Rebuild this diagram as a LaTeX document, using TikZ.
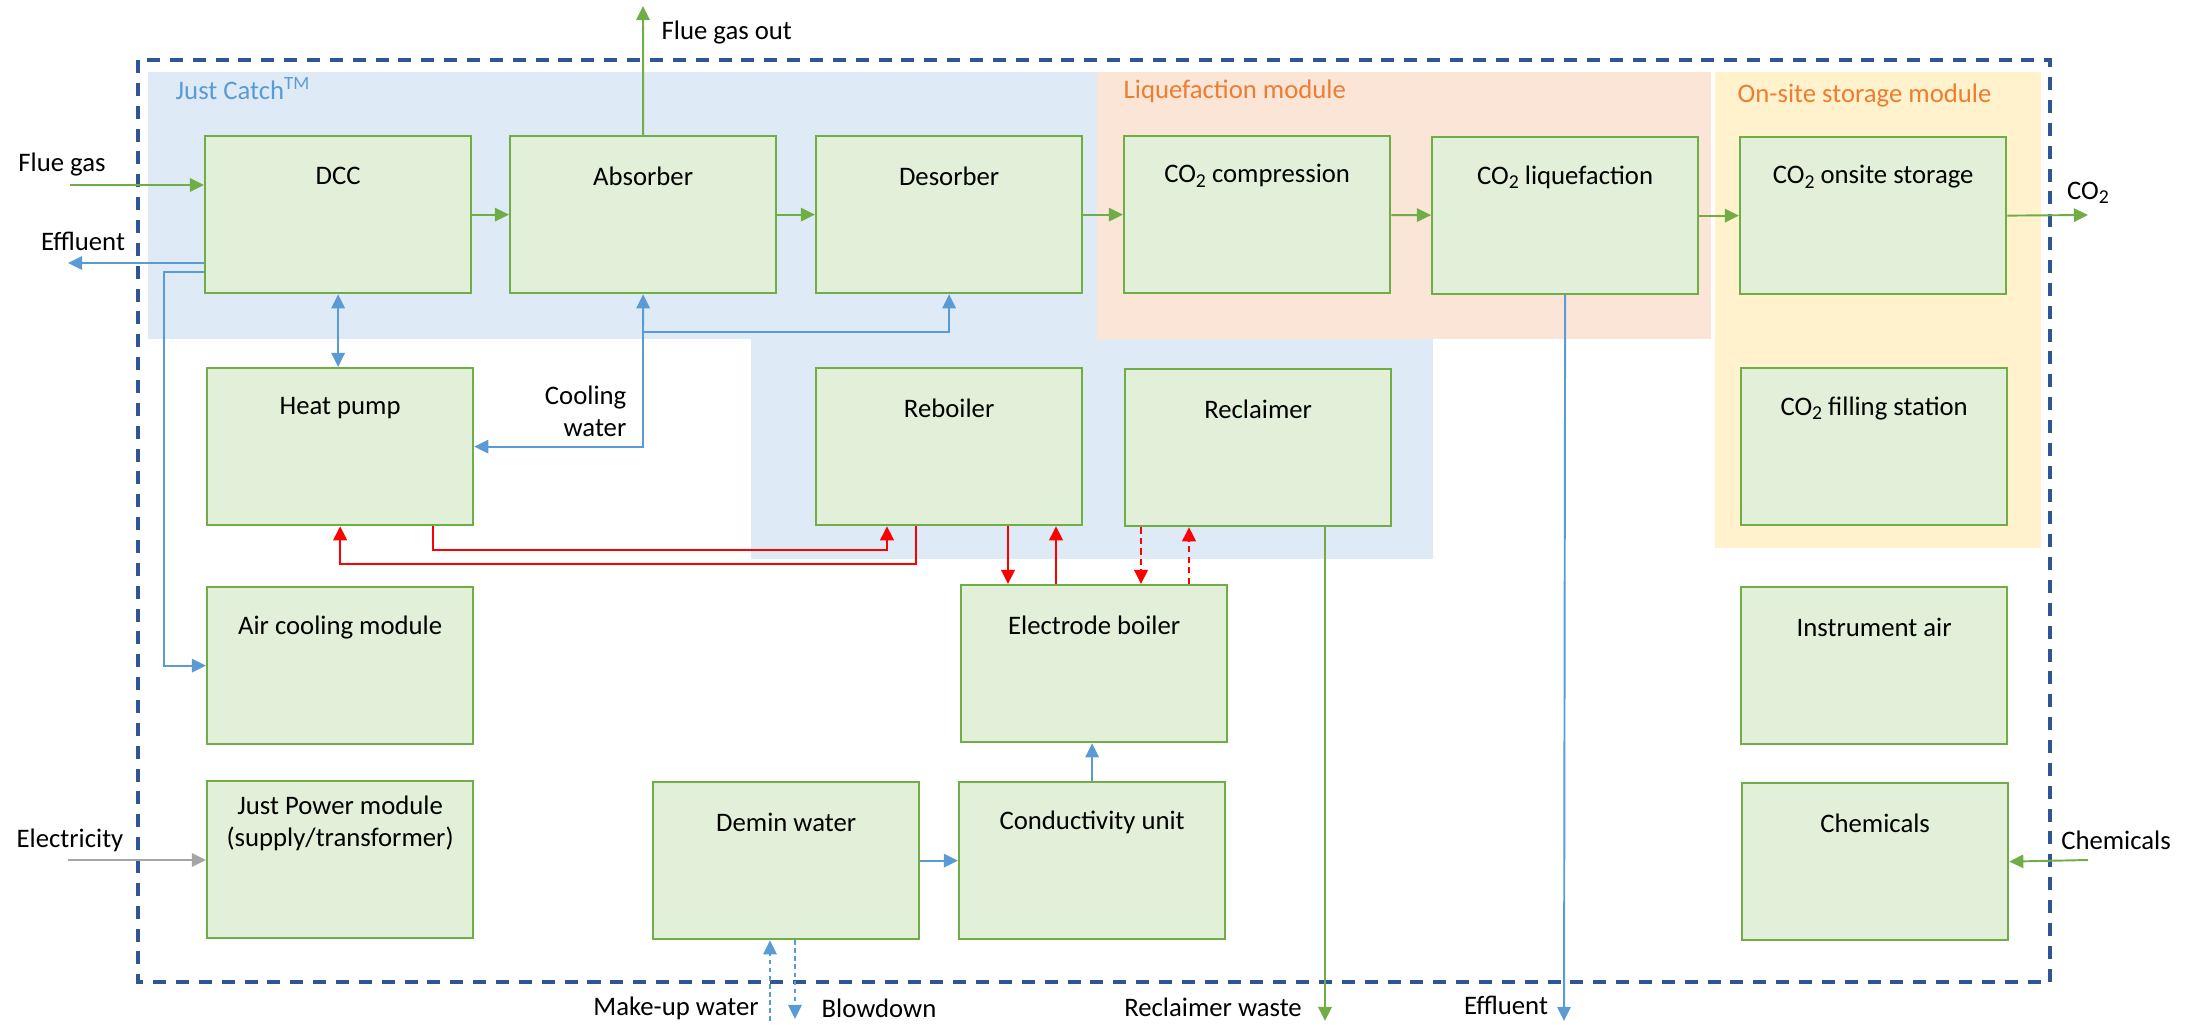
\documentclass[tikz,border=0pt]{standalone}
\usepackage{fontspec}
\setmainfont{Carlito}
\usepackage{tikz}
\usetikzlibrary{arrows.meta}

\definecolor{boxfill}{HTML}{E2F0D9}
\definecolor{boxline}{HTML}{70AD47}
\definecolor{catchfill}{HTML}{DEEBF7}
\definecolor{catchtext}{HTML}{5B9BD5}
\definecolor{liquefill}{HTML}{FBE5D6}
\definecolor{storagefill}{HTML}{FFF2CC}
\definecolor{moduletext}{HTML}{ED7D31}
\definecolor{limitblue}{HTML}{2F5597}
\definecolor{gasgreen}{HTML}{70AD47}
\definecolor{waterblue}{HTML}{5B9BD5}
\definecolor{powergrey}{HTML}{A5A5A5}
\definecolor{heatred}{HTML}{FF0000}

\newcommand{\subtwo}{\raisebox{-0.35ex}{\fontsize{5.6}{6}\selectfont 2}}

\tikzset{
  unit/.style={draw=boxline, fill=boxfill, line width=0.6pt, anchor=north west,
    minimum width=2.66cm, minimum height=1.57cm, inner sep=0pt},
  unitname/.style={align=center, inner sep=0pt},
  areatitle/.style={anchor=base west, inner sep=0pt},
  flowlabel/.style={inner sep=0pt},
  tip/.style={-{Triangle[length=4pt,width=3.8pt]}},
  gasline/.style={draw=gasgreen, line width=0.55pt, tip},
  waterline/.style={draw=waterblue, line width=0.55pt, tip},
  heatline/.style={draw=heatred, line width=0.75pt, tip},
  limitline/.style={draw=limitblue, line width=1.1pt, dash pattern=on 3.7pt off 2.8pt}
}

\begin{document}
\begin{tikzpicture}[x=0.01cm,y=-0.01cm,font=\fontsize{7.6}{9.1}\selectfont]
\useasboundingbox (0,0) rectangle (2198,1024);

% Module areas
\fill[catchfill] (148,72) rectangle (1097,339);
\fill[catchfill] (751,339) rectangle (1433,559);
\fill[liquefill] (1097,72) rectangle (1711,339);
\fill[storagefill] (1715,72) rectangle (2041,548);

\node[areatitle,text=catchtext] (catch-title) at (175,99) {Just Catch\textsuperscript{TM}};
\node[areatitle,text=moduletext] (liquefaction-title) at (1123,98) {Liquefaction module};
\node[areatitle,text=moduletext] (storage-title) at (1737,102) {On-site storage module};

% Battery limit
\draw[limitline] (138,60) rectangle (2050,982);

% Units
\node[unit] (dcc) at (204,135) {};
\node[unit] (absorber) at (509,135) {};
\node[unit] (desorber) at (815,135) {};
\node[unit] (compression) at (1123,135) {};
\node[unit] (liquefaction) at (1431,136) {};
\node[unit] (storage) at (1739,136) {};
\node[unit] (heatpump) at (206,367) {};
\node[unit] (reboiler) at (815,367) {};
\node[unit] (reclaimer) at (1124,368) {};
\node[unit] (filling) at (1740,367) {};
\node[unit] (aircooling) at (206,586) {};
\node[unit] (boiler) at (960,584) {};
\node[unit] (instrair) at (1740,586) {};
\node[unit] (power) at (206,780) {};
\node[unit] (demin) at (652,781) {};
\node[unit] (conductivity) at (958,781) {};
\node[unit] (chemicals) at (1741,782) {};

% Unit names
\node[unitname] (dcc-name) at ([yshift=-4.1mm]dcc.north) {DCC};
\node[unitname] (absorber-name) at ([yshift=-4.1mm]absorber.north) {Absorber};
\node[unitname] (desorber-name) at ([yshift=-4.1mm]desorber.north) {Desorber};
\node[unitname] (compression-name) at ([yshift=-4.1mm]compression.north) {CO\subtwo{} compression};
\node[unitname] (liquefaction-name) at ([yshift=-4.1mm]liquefaction.north) {CO\subtwo{} liquefaction};
\node[unitname] (storage-name) at ([yshift=-4.1mm]storage.north) {CO\subtwo{} onsite storage};
\node[unitname] (heatpump-name) at ([yshift=-4.1mm]heatpump.north) {Heat pump};
\node[unitname] (reboiler-name) at ([yshift=-4.1mm]reboiler.north) {Reboiler};
\node[unitname] (reclaimer-name) at ([yshift=-4.1mm]reclaimer.north) {Reclaimer};
\node[unitname] (filling-name) at ([yshift=-4.1mm]filling.north) {CO\subtwo{} filling station};
\node[unitname] (aircooling-name) at ([yshift=-4.1mm]aircooling.north) {Air cooling module};
\node[unitname] (boiler-name) at ([yshift=-4.1mm]boiler.north) {Electrode boiler};
\node[unitname] (instrair-name) at ([yshift=-4.1mm]instrair.north) {Instrument air};
\node[unitname] (power-name) at ([yshift=-4.3mm]power.north) {Just Power module\\(supply/transformer)};
\node[unitname] (demin-name) at ([yshift=-4.1mm]demin.north) {Demin water};
\node[unitname] (conductivity-name) at ([yshift=-4.1mm]conductivity.north) {Conductivity unit};
\node[unitname] (chemicals-name) at ([yshift=-4.1mm]chemicals.north) {Chemicals};

% Free ends of the streams
\coordinate (fluein) at (70,185);
\coordinate (effout) at (68,263);
\coordinate (airbend) at (164,272);
\coordinate (flueout) at (643,6);
\coordinate (co2out) at (2088,215);
\coordinate (cwsplit) at (643,332);
\coordinate (hpheat) at (433,550);
\coordinate (rbin) at (887,550);
\coordinate (rbout) at (916,564);
\coordinate (rbdown) at (1008,0);
\coordinate (rbup) at (1056,0);
\coordinate (rcdown) at (1141,0);
\coordinate (rcup) at (1189,0);
\coordinate (wasteout) at (1325,1021);
\coordinate (effout2) at (1564,1021);
\coordinate (makeup) at (770,1021);
\coordinate (blowdown) at (795,1019);
\coordinate (elecin) at (68,860);
\coordinate (chemin) at (2088,860);

% Gas and CO2 train
\draw[gasline] (fluein) -- (fluein -| dcc.west);
\draw[gasline] (dcc) -- (absorber);
\draw[gasline] (absorber) -- (desorber);
\draw[gasline] (desorber) -- (compression);
\draw[gasline] (compression) -- (liquefaction);
\draw[gasline] (liquefaction) -- (storage);
\draw[gasline] (storage.east) -- (co2out);
\draw[gasline] (absorber.north) -- (flueout);
\draw[gasline] (wasteout |- reclaimer.south) -- (wasteout);
\draw[gasline] (chemin) -- (chemicals.east);

% Water
\draw[waterline] (effout -| dcc.west) -- (effout);
\draw[waterline] (airbend -| dcc.west) -- (airbend) |- (aircooling.west);
\draw[waterline,{Triangle[length=4pt,width=3.8pt]}-{Triangle[length=4pt,width=3.8pt]}] (dcc.south) -- (dcc.south |- heatpump.north);
\draw[waterline] (cwsplit) |- (heatpump.east);
\draw[waterline] (cwsplit) -- (absorber.south);
\draw[waterline] (cwsplit) -| (desorber.south);
\draw[waterline] (liquefaction.south) -- (effout2);
\draw[waterline] (demin) -- (conductivity);
\draw[waterline] (conductivity.north) -- (conductivity.north |- boiler.south);
\draw[waterline,dash pattern=on 1.3pt off 1pt] (makeup) -- (makeup |- demin.south);
\draw[waterline,dash pattern=on 1.3pt off 1pt] (blowdown |- demin.south) -- (blowdown);

% Electricity
\draw[draw=powergrey,line width=0.55pt,tip] (elecin) -- (elecin -| power.west);

% Heat
\draw[heatline] (hpheat |- heatpump.south) -- (hpheat) -- (rbin) -- (rbin |- reboiler.south);
\draw[heatline] (rbout |- reboiler.south) -- (rbout) -| (heatpump.south);
\draw[heatline] (rbdown |- reboiler.south) -- (rbdown |- boiler.north);
\draw[heatline] (rbup |- boiler.north) -- (rbup |- reboiler.south);
\draw[heatline,dash pattern=on 1.8pt off 1.2pt] (rcdown |- reclaimer.south) -- (rcdown |- boiler.north);
\draw[heatline,dash pattern=on 1.8pt off 1.2pt] (rcup |- boiler.north) -- (rcup |- reclaimer.south);

% Stream labels
\node[flowlabel] (fluein-label) at (62,165) {Flue gas};
\node[flowlabel] (effout-label) at (83,241) {Effluent};
\node[flowlabel,anchor=west] (flueout-label) at (661,33) {Flue gas out};
\node[flowlabel] (co2out-label) at (2088,193) {CO\subtwo};
\node[flowlabel,align=right,anchor=east] (cw-label) at (627,411) {Cooling\\water};
\node[flowlabel] (elecin-label) at (70,840) {Electricity};
\node[flowlabel] (chemin-label) at (2116,840) {Chemicals};
\node[flowlabel] (makeup-label) at (676,1008) {Make-up water};
\node[flowlabel] (blowdown-label) at (879,1008) {Blowdown};
\node[flowlabel] (waste-label) at (1213,1007) {Reclaimer waste};
\node[flowlabel] (effout2-label) at (1506,1005) {Effluent};
\end{tikzpicture}
\end{document}
